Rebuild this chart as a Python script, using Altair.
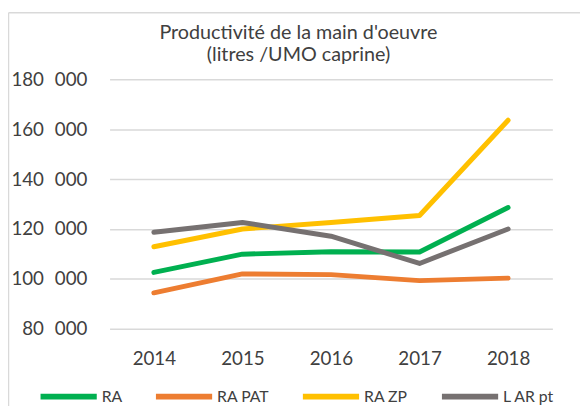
import altair as alt
import pandas as pd

years = ["2014", "2015", "2016", "2017", "2018"]
series = ["RA", "RA PAT", "RA ZP", "L AR pt"]
ra = [102600, 109900, 110900, 110800, 128600]
ra_pat = [94400, 102000, 101700, 99300, 100300]
ra_zp = [112900, 120000, 122600, 125400, 163600]
l_ar_pt = [118700, 122600, 117100, 106200, 120000]
colors = ["#00b050", "#ed7d31", "#ffc000", "#767171"]
y_ticks = [80000, 100000, 120000, 140000, 160000, 180000]
title_lines = ["Productivité de la main d'oeuvre", "(litres /UMO caprine)"]

rows = []
for name, vals in zip(series, [ra, ra_pat, ra_zp, l_ar_pt]):
    for yr, v in zip(years, vals):
        rows.append({"annee": yr, "serie": name, "valeur": v})
df = pd.DataFrame(rows)

W, H = 449, 253
PL, PT, PR, PB = 103, 69.5, 28, 75.5
TXT = "#404040"

lines = alt.Chart(df).mark_line(strokeWidth=5, strokeCap="round", strokeJoin="round").encode(
    x=alt.X("annee:O", scale=alt.Scale(type="point", padding=0.5),
            axis=alt.Axis(title=None, labelAngle=0, domain=False, ticks=False,
                          labelPadding=21, labelFontSize=19, labelColor=TXT, grid=False)),
    y=alt.Y("valeur:Q", scale=alt.Scale(domain=[80000, 180000], nice=False, zero=False),
            axis=alt.Axis(title=None, values=y_ticks, domain=False, ticks=False,
                          labelPadding=23, labelFontSize=19, labelColor=TXT,
                          gridColor="#d9d9d9", gridWidth=1.5,
                          labelExpr="replace(format(datum.value, ','), ',', '\u2007')")),
    color=alt.Color("serie:N", sort=series,
                    scale=alt.Scale(domain=series, range=colors),
                    legend=alt.Legend(title=None, orient="none", direction="horizontal",
                                      legendX=-73, legendY=290, symbolType="stroke",
                                      symbolSize=3249, symbolStrokeWidth=6,
                                      labelFontSize=16, labelColor=TXT, labelOffset=2,
                                      columnPadding=22, padding=0)),
    order=alt.Order("serie:N", sort="ascending"),
)

one = pd.DataFrame({"a": [0]})
frame_left = alt.Chart(one).mark_rule(color="#d9d9d9", strokeWidth=1.5).encode(
    x=alt.value(-102.5), y=alt.value(-67.5), y2=alt.value(H + 200))
frame_top = alt.Chart(one).mark_rule(color="#d9d9d9", strokeWidth=1.5).encode(
    x=alt.value(-102.5), x2=alt.value(W + 200), y=alt.value(-67.5))

chart = alt.layer(frame_left, frame_top, lines).properties(
    width=W, height=H,
    autosize=alt.AutoSizeParams(type="none"),
    padding={"left": PL, "top": PT, "right": PR, "bottom": PB},
    title=alt.TitleParams(title_lines, anchor="middle", dx=-33, fontSize=20,
                          fontWeight="normal", color=TXT, lineHeight=23, offset=-54),
).configure(font="Lato").configure_view(stroke=None)

chart.save("out.html", embed_options={"renderer": "svg", "actions": False})
